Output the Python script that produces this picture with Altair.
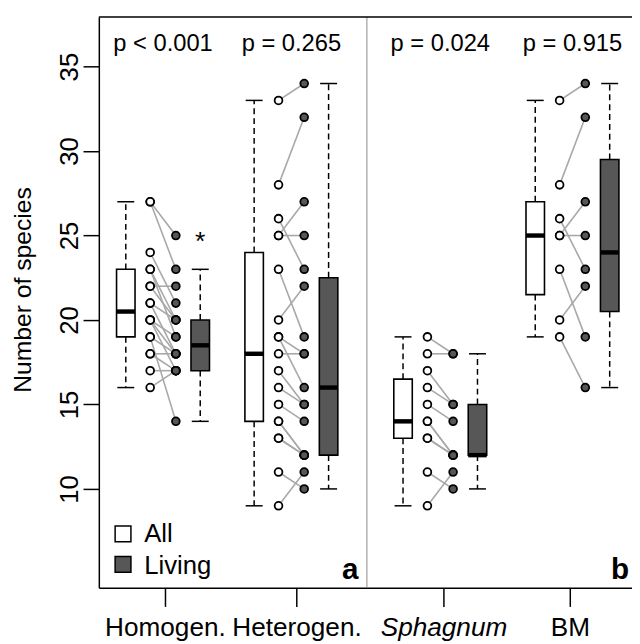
import altair as alt
import pandas as pd

# ---------------- data ----------------
groups = ["Homogen.", "Heterogen.", "Sphagnum", "BM"]
p_labels = ["p < 0.001", "p = 0.265", "p = 0.024", "p = 0.915"]
legend_labels = ["All", "Living"]
panel_labels = ["a", "b"]

# paired samples (All -> Living)
homogen_all = [27, 27, 24, 23, 23, 22, 22, 21, 21, 20, 20, 20, 19, 19, 18, 18, 17, 16]
homogen_living = [25, 23, 21, 20, 19, 22, 20, 18, 20, 18, 19, 17, 14, 18, 17, 18, 17, 17]
heterogen_all = [33, 28, 25, 25, 26, 23, 20, 19, 19, 18, 17, 16, 15, 14, 14, 13, 13, 11, 9]
heterogen_living = [34, 32, 27, 25, 23, 19, 22, 16, 18, 18, 15, 15, 14, 12, 12, 12, 12, 10, 11]
sphagnum_all = [19, 18, 17, 16, 15, 14, 14, 13, 13, 11, 9]
sphagnum_living = [18, 18, 15, 15, 14, 12, 12, 12, 12, 10, 11]
bm_all = [33, 28, 25, 25, 26, 23, 20, 19]
bm_living = [34, 32, 27, 25, 23, 19, 22, 16]

# box statistics per group (lower whisker, lower hinge, median, upper hinge, upper whisker)
all_low = [16, 9, 9, 19]
all_q1 = [19, 14, 13, 21.5]
all_med = [20.5, 18, 14, 25]
all_q3 = [23, 24, 16.5, 27]
all_high = [27, 33, 19, 33]
living_low = [14, 10, 10, 16]
living_q1 = [17, 12, 12, 20.5]
living_med = [18.5, 16, 12, 24]
living_q3 = [20, 22.5, 15, 29.5]
living_high = [23, 34, 18, 34]
outlier_group = ["Homogen."]
outlier_value = [25]

y_ticks = [10, 15, 20, 25, 30, 35]

# ---------------- layout ----------------
GROUP_POS = [1.0, 2.0, 3.16, 4.19]
TICK_POS = [1.015, 2.04, 3.185, 4.17]
BOX_OFF = 0.29
PT_OFF = 0.1
BOX_HALF = 0.072
CAP_HALF = 0.066
W, H = 540, 578
XDOM = [0.5, 0.5 + W / 130.0]
YDOM = [4.155, 37.94]
FONT = "Liberation Sans"
LIVING_BOX = "#575757"
LIVING_PT = "#808080"

pairs_by_group = {
    "Homogen.": (homogen_all, homogen_living),
    "Heterogen.": (heterogen_all, heterogen_living),
    "Sphagnum": (sphagnum_all, sphagnum_living),
    "BM": (bm_all, bm_living),
}

box_rows, pair_rows, pt_rows = [], [], []
for i, g in enumerate(groups):
    pos = GROUP_POS[i]
    for kind, off, st in [
        ("All", -BOX_OFF, (all_low, all_q1, all_med, all_q3, all_high)),
        ("Living", BOX_OFF, (living_low, living_q1, living_med, living_q3, living_high)),
    ]:
        c = pos + off
        box_rows.append(dict(group=g, type=kind, x=c, xl=c - BOX_HALF, xr=c + BOX_HALF,
                             cl=c - CAP_HALF, cr=c + CAP_HALF,
                             low=st[0][i], q1=st[1][i], med=st[2][i], q3=st[3][i], high=st[4][i]))
    a_vals, l_vals = pairs_by_group[g]
    for a, l in zip(a_vals, l_vals):
        pair_rows.append(dict(group=g, x1=pos - PT_OFF, x2=pos + PT_OFF, y1=a, y2=l))
        pt_rows.append(dict(group=g, type="All", x=pos - PT_OFF, v=a))
        pt_rows.append(dict(group=g, type="Living", x=pos + PT_OFF, v=l))

boxes = pd.DataFrame(box_rows)
pairs = pd.DataFrame(pair_rows)
pts = pd.DataFrame(pt_rows)
ptext = pd.DataFrame({"x": GROUP_POS, "label": p_labels})
outl = pd.DataFrame({"x": [GROUP_POS[groups.index(g)] + BOX_OFF for g in outlier_group],
                     "v": outlier_value})

# ---------------- scales / axes ----------------
mids = [(TICK_POS[k] + TICK_POS[k + 1]) / 2 for k in range(len(TICK_POS) - 1)]
expr = f"'{groups[-1]}'"
for k in range(len(mids) - 1, -1, -1):
    expr = f"datum.value < {mids[k]} ? '{groups[k]}' : " + expr
ital_lo, ital_hi = mids[1], mids[2]

XS = alt.Scale(domain=XDOM, nice=False, zero=False)
YS = alt.Scale(domain=YDOM, nice=False, zero=False)
XA = alt.Axis(values=TICK_POS, labelExpr=expr, title=None, grid=False,
              labelFont=FONT, labelFontSize=26.5, labelColor="black",
              labelFontStyle={"condition": {"test": f"datum.value > {ital_lo} && datum.value < {ital_hi}",
                                            "value": "italic"}, "value": "normal"},
              labelBaseline="alphabetic", labelAlign="center", labelPadding=29,
              labelOverlap=False, labelFlush=False, labelBound=False,
              tickSize=19, tickWidth=1.5, tickColor="black",
              domainColor="black", domainWidth=1.5)
YA = alt.Axis(values=y_ticks, title="Number of species", grid=False,
              titleFont=FONT, titleFontSize=25, titleFontWeight="normal", titleColor="black",
              titleAngle=270, titleX=-69, titleY=276, titleAlign="center", titleBaseline="alphabetic",
              labelFont=FONT, labelFontSize=26, labelColor="black", labelAngle=270,
              labelAlign="center", labelBaseline="alphabetic", labelPadding=6, labelOverlap=False,
              labelFlush=False,
              tickSize=16, tickWidth=1.5, tickColor="black",
              domainColor="black", domainWidth=1.5)


def X(f):
    return alt.X(f, type="quantitative", scale=XS, axis=XA)


def Y(f):
    return alt.Y(f, type="quantitative", scale=YS, axis=YA)


fill_scale = alt.Scale(domain=legend_labels, range=["white", LIVING_BOX])
pt_scale = alt.Scale(domain=legend_labels, range=["white", LIVING_PT])
dummy = pd.DataFrame({"d": [0]})

divider = alt.Chart(dummy).mark_rule(color="#8a8a8a", strokeWidth=1).encode(
    x=alt.value(271.5), y=alt.value(0), y2=alt.value(H))
top = alt.Chart(dummy).mark_rule(color="black", strokeWidth=1.5).encode(
    x=alt.value(0), x2=alt.value(W), y=alt.value(0))

lines = alt.Chart(pairs).mark_rule(color="#a8a8a8", strokeWidth=1.6).encode(
    x=X("x1"), x2="x2", y=Y("y1"), y2="y2")

whisk_hi = alt.Chart(boxes).mark_rule(color="black", strokeWidth=1.5, strokeDash=[6, 4]).encode(
    x=X("x"), y=Y("q3"), y2="high")
whisk_lo = alt.Chart(boxes).mark_rule(color="black", strokeWidth=1.5, strokeDash=[6, 4]).encode(
    x=X("x"), y=Y("q1"), y2="low")
cap_hi = alt.Chart(boxes).mark_rule(color="black", strokeWidth=1.5).encode(
    x=X("cl"), x2="cr", y=Y("high"))
cap_lo = alt.Chart(boxes).mark_rule(color="black", strokeWidth=1.5).encode(
    x=X("cl"), x2="cr", y=Y("low"))
rects = alt.Chart(boxes).mark_rect(stroke="black", strokeWidth=1.6).encode(
    x=X("xl"), x2="xr", y=Y("q1"), y2="q3",
    fill=alt.Fill("type:N", scale=fill_scale, legend=None))
medians = alt.Chart(boxes).mark_rule(color="black", strokeWidth=4.5, strokeCap="butt").encode(
    x=X("xl"), x2="xr", y=Y("med"))

points = alt.Chart(pts).mark_circle(size=62, stroke="black", strokeWidth=1.8, opacity=1).encode(
    x=X("x"), y=Y("v"), fill=alt.Fill("type:N", scale=pt_scale, legend=None))

star = alt.Chart(outl).mark_text(text="*", font=FONT, fontSize=27, baseline="alphabetic",
                                 align="center", dy=15, color="black").encode(x=X("x"), y=Y("v"))

pvals = alt.Chart(ptext).mark_text(font=FONT, fontSize=24, baseline="alphabetic",
                                   align="center", color="black").encode(
    x=X("x"), y=alt.value(34), text="label:N")

leg_sq1 = alt.Chart(dummy).mark_square(size=256, fill="white", stroke="black",
                                       strokeWidth=1.5, opacity=1).encode(
    x=alt.value(24.5), y=alt.value(523.5))
leg_sq2 = alt.Chart(dummy).mark_square(size=256, fill=LIVING_BOX, stroke="black",
                                       strokeWidth=1.5, opacity=1).encode(
    x=alt.value(24.5), y=alt.value(554.5))
leg_t1 = alt.Chart(dummy).mark_text(text=legend_labels[0], font=FONT, fontSize=26, align="left",
                                    baseline="alphabetic", color="black").encode(
    x=alt.value(46), y=alt.value(532))
leg_t2 = alt.Chart(dummy).mark_text(text=legend_labels[1], font=FONT, fontSize=26, align="left",
                                    baseline="alphabetic", color="black").encode(
    x=alt.value(46), y=alt.value(564))
lab_a = alt.Chart(dummy).mark_text(text=panel_labels[0], font=FONT, fontSize=30, fontWeight="bold",
                                   align="right", baseline="alphabetic", color="black").encode(
    x=alt.value(263), y=alt.value(569))
lab_b = alt.Chart(dummy).mark_text(text=panel_labels[1], font=FONT, fontSize=30, fontWeight="bold",
                                   align="right", baseline="alphabetic", color="black").encode(
    x=alt.value(537), y=alt.value(569))

chart = alt.layer(
    divider, top, lines, whisk_hi, whisk_lo, cap_hi, cap_lo, rects, medians, points,
    star, pvals, leg_sq1, leg_sq2, leg_t1, leg_t2, lab_a, lab_b
).properties(
    width=W, height=H,
    autosize=alt.AutoSizeParams(type="none"),
    padding={"left": 92, "top": 5, "right": 0, "bottom": 53},
    background="white",
).configure_view(stroke=None)

chart.save("out.html", embed_options={"renderer": "svg", "actions": False})
